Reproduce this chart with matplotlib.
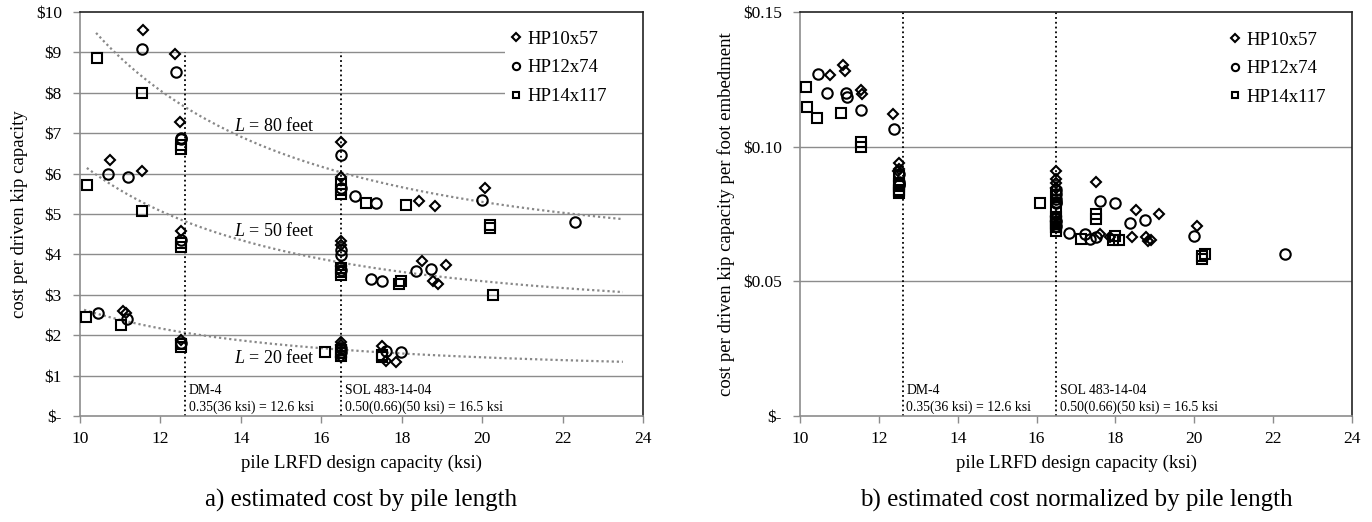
import matplotlib
matplotlib.use("Agg")
import matplotlib.pyplot as plt
from matplotlib.patches import Rectangle
import numpy as np

plt.rcParams['font.family'] = ['Liberation Serif', 'DejaVu Serif']
plt.rcParams['mathtext.fontset'] = 'custom'
plt.rcParams['mathtext.rm'] = 'Liberation Serif'
plt.rcParams['mathtext.it'] = 'Liberation Serif:italic'

lengths = [80, 50, 20]  # pile length, feet
sections = ['HP10x57', 'HP12x74', 'HP14x117']
markers = ['D', 'o', 's']
marker_sizes = [5.2, 7.5, 7.0]

# pile design stress (ksi) and cost per driven kip capacity, by section and length
hp10_x = {80: [11.57, 12.36, 12.48, 16.5, 16.5, 18.42, 18.82, 20.06],
          50: [10.75, 11.55, 12.5, 16.5, 16.5, 16.5, 18.51, 19.11, 18.77, 18.9],
          20: [11.08, 11.14, 12.5, 16.5, 16.5, 16.5, 17.51, 17.61, 17.86]}
hp10_cost = {80: [9.56, 8.96, 7.28, 6.78, 5.92, 5.31, 5.21, 5.64],
             50: [6.33, 6.06, 4.59, 4.32, 4.24, 3.72, 3.83, 3.75, 3.33, 3.26],
             20: [2.61, 2.56, 1.88, 1.82, 1.76, 1.45, 1.74, 1.35, 1.33]}

hp12_x = {80: [11.54, 12.38, 12.5, 12.5, 16.5, 16.5, 16.83, 17.35, 20.0, 22.3],
          50: [10.69, 11.2, 12.5, 16.5, 16.5, 16.5, 17.24, 17.51, 18.36, 18.74],
          20: [10.46, 11.16, 12.5, 16.5, 16.5, 17.6, 17.99]}
hp12_cost = {80: [9.08, 8.51, 6.89, 6.85, 6.45, 5.65, 5.44, 5.27, 5.35, 4.81],
             50: [6.0, 5.92, 4.35, 4.12, 3.98, 3.62, 3.38, 3.33, 3.58, 3.64],
             20: [2.54, 2.40, 1.80, 1.68, 1.58, 1.60, 1.58]}

hp14_x = {80: [10.43, 11.55, 12.5, 12.5, 16.5, 16.5, 16.5, 17.12, 18.1, 20.2, 20.2],
          50: [10.17, 11.55, 12.5, 12.5, 16.5, 16.5, 16.5, 17.93, 17.99, 20.27],
          20: [10.15, 11.03, 12.5, 12.5, 16.08, 16.5, 16.5, 16.5, 17.5, 17.5]}
hp14_cost = {80: [8.86, 7.99, 6.70, 6.62, 5.74, 5.6, 5.5, 5.27, 5.22, 4.74, 4.66],
             50: [5.73, 5.08, 4.27, 4.18, 3.66, 3.56, 3.5, 3.27, 3.35, 3.0],
             20: [2.44, 2.25, 1.78, 1.72, 1.58, 1.64, 1.55, 1.48, 1.50, 1.46]}

all_x = [hp10_x, hp12_x, hp14_x]
all_cost = [hp10_cost, hp12_cost, hp14_cost]

# trend curves y = a + b / x^2 for each pile length
trend_a = [3.75, 2.36, 1.05]
trend_b = [620.0, 391.0, 161.0]
trend_start = [10.4, 10.17, 10.1]
trend_end = 23.5
trend_label_y = [7.18, 4.59, 1.43]

limits = [(12.6, 'DM-4\n0.35(36 ksi) = 12.6 ksi'),
          (16.5, 'SOL 483-14-04\n0.50(0.66)(50 ksi) = 16.5 ksi')]

fig = plt.figure(figsize=(13.72, 5.22), dpi=100)
ax1 = fig.add_axes([80 / 1372, 106 / 522, 563 / 1372, 404 / 522])
ax2 = fig.add_axes([800 / 1372, 106 / 522, 552 / 1372, 404 / 522])

grid_color = '#8c8c8c'


def style_axes(ax, ymax, yticks, ylabels, ylabel):
    ax.set_xlim(10, 24)
    ax.set_ylim(0, ymax)
    ax.set_xticks(range(10, 25, 2))
    ax.set_yticks(yticks)
    ax.set_yticklabels(ylabels)
    ax.tick_params(axis='both', labelsize=12.5, color=grid_color, length=5, width=1)
    ax.tick_params(axis='x', pad=6)
    ax.tick_params(axis='y', pad=8)
    for t in yticks[1:-1]:
        ax.axhline(t, color=grid_color, lw=1, zorder=0)
    ax.spines['left'].set_color(grid_color)
    ax.spines['bottom'].set_color(grid_color)
    ax.spines['top'].set_color('#222222')
    ax.spines['right'].set_color('#222222')
    for s in ax.spines.values():
        s.set_linewidth(1.2)
    ax.set_xlabel('pile LRFD design capacity (ksi)', fontsize=13.5, labelpad=5)
    ax.set_ylabel(ylabel, fontsize=13.5, labelpad=6)


def add_legend(ax, left, top):
    handles = [plt.Line2D([], [], ls='none', marker=markers[k], ms=marker_sizes[k] * 0.7,
                          mfc='none', mec='black', mew=1.5) for k in range(3)]
    leg = ax.legend(handles, sections, loc='upper left', bbox_to_anchor=(left, top),
                    fontsize=13.5, frameon=False, handlelength=0.6, handletextpad=0.3,
                    labelspacing=0.62, borderpad=0, borderaxespad=0)
    leg.set_zorder(5)


# (a) cost per driven kip capacity
style_axes(ax1, 10, list(range(0, 11)),
           ['$-'] + ['$%d' % v for v in range(1, 11)],
           'cost per driven kip capacity')

# white legend area over the gridlines
ax1.add_patch(Rectangle((0.755, 0.74), 0.245, 0.26, transform=ax1.transAxes,
                        facecolor='white', edgecolor='none', zorder=0.5))

for i, L in enumerate(lengths):
    t = np.linspace(trend_start[i], trend_end, 200)
    ax1.plot(t, trend_a[i] + trend_b[i] / t ** 2, color='#888888', lw=1.6,
             ls=(0, (1, 1.3)), zorder=1)
    ax1.text(13.83, trend_label_y[i], '$L$ = %d feet' % L, fontsize=13, va='center')

for k in range(3):
    for L in lengths:
        ax1.plot(all_x[k][L], all_cost[k][L], ls='none', marker=markers[k],
                 ms=marker_sizes[k], mfc='none', mec='black', mew=1.5, zorder=3)

for xv, txt in limits:
    ax1.plot([xv, xv], [0, 9], color='black', ls=':', lw=1.3, zorder=2)
    ax1.text(xv + 0.1, 0.05, txt, fontsize=9.9, va='bottom', ha='left', linespacing=1.35)

add_legend(ax1, 0.764, 0.954)

# (b) cost normalized by embedded length
style_axes(ax2, 0.15, [0, 0.05, 0.10, 0.15],
           ['$-', '$0.05', '$0.10', '$0.15'],
           'cost per driven kip capacity per foot embedment')

for k in range(3):
    for L in lengths:
        per_ft = np.array(all_cost[k][L]) / L
        ax2.plot(all_x[k][L], per_ft, ls='none', marker=markers[k],
                 ms=marker_sizes[k], mfc='none', mec='black', mew=1.5, zorder=3)

for xv, txt in limits:
    ax2.plot([xv, xv], [0, 0.15], color='black', ls=':', lw=1.3, zorder=2)
    ax2.text(xv + 0.1, 0.0008, txt, fontsize=9.9, va='bottom', ha='left', linespacing=1.35)

add_legend(ax2, 0.778, 0.952)

fig.text((80 + 643) / 2 / 1372, 22 / 522, 'a) estimated cost by pile length',
         fontsize=18, ha='center', va='center')
fig.text((800 + 1352) / 2 / 1372, 22 / 522, 'b) estimated cost normalized by pile length',
         fontsize=18, ha='center', va='center')

fig.savefig('out.png', dpi=100)
